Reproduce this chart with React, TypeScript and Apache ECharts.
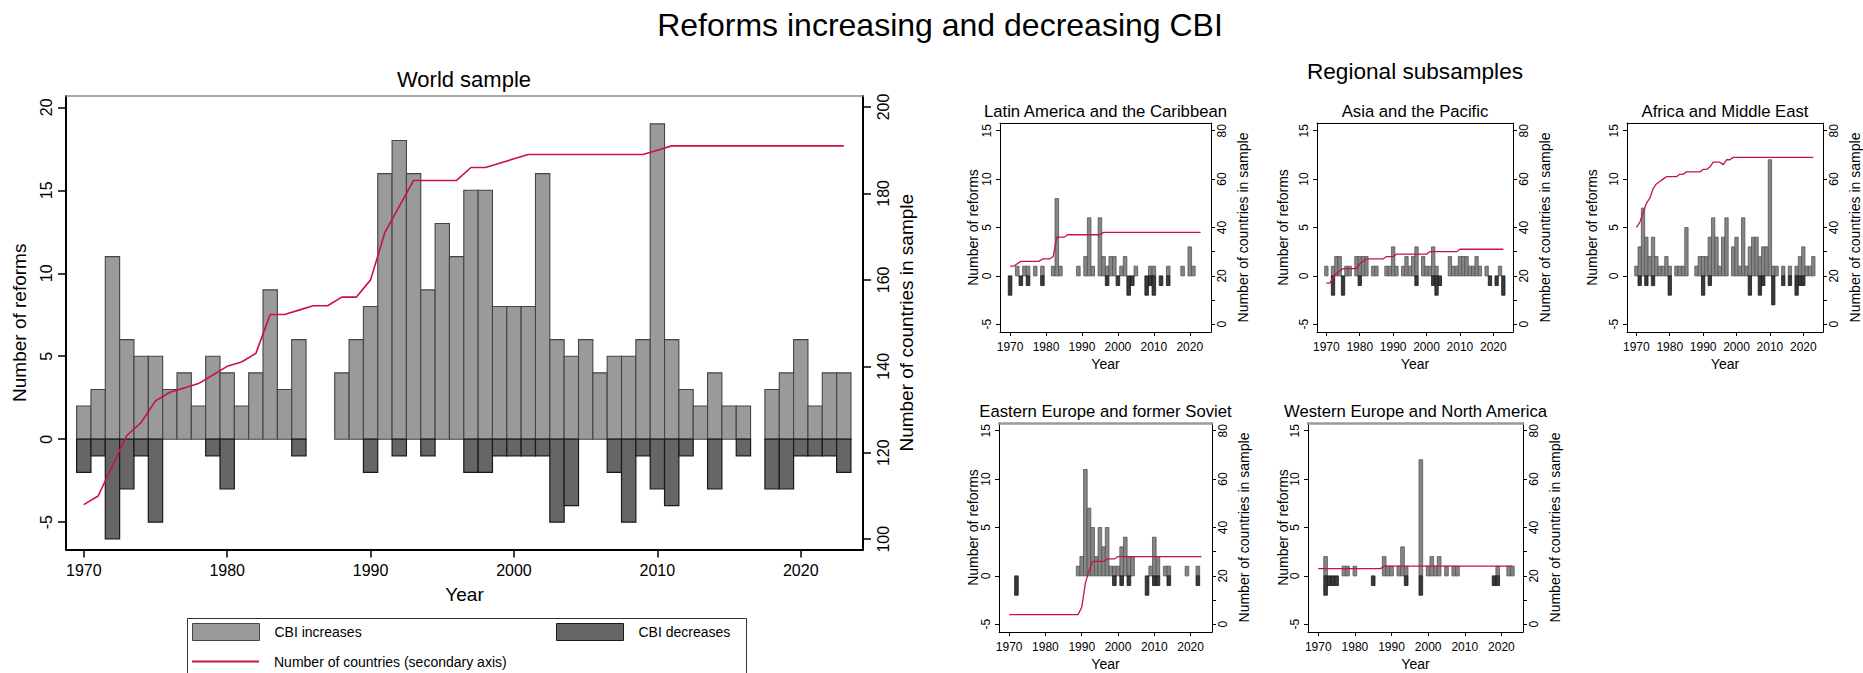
import React, { useEffect, useRef } from "react";
import * as echarts from "echarts";

// ---------------- data ----------------
const YEARS = [
  1970, 1971, 1972, 1973, 1974, 1975, 1976, 1977, 1978, 1979,
  1980, 1981, 1982, 1983, 1984, 1985, 1986, 1987, 1988, 1989,
  1990, 1991, 1992, 1993, 1994, 1995, 1996, 1997, 1998, 1999,
  2000, 2001, 2002, 2003, 2004, 2005, 2006, 2007, 2008, 2009,
  2010, 2011, 2012, 2013, 2014, 2015, 2016, 2017, 2018, 2019,
  2020, 2021, 2022, 2023,
];

const WORLD_INCREASES = [
  2, 3, 11, 6, 5, 5, 3, 4, 2, 5,
  4, 2, 4, 9, 3, 6, 0, 0, 4, 6,
  8, 16, 18, 16, 9, 13, 11, 15, 15, 8,
  8, 8, 16, 6, 5, 6, 4, 5, 5, 6,
  19, 6, 3, 2, 4, 2, 2, 0, 3, 4,
  6, 2, 4, 4,
];
const WORLD_DECREASES = [
  -2, -1, -6, -3, -1, -5, 0, 0, 0, -1,
  -3, 0, 0, 0, 0, -1, 0, 0, 0, 0,
  -2, 0, -1, 0, -1, 0, 0, -2, -2, -1,
  -1, -1, -1, -5, -4, 0, 0, -2, -5, -1,
  -3, -4, -1, 0, -3, 0, -1, 0, -3, -3,
  -1, -1, -1, -2,
];
const WORLD_COUNTRIES = [
  108, 110, 117, 124, 127, 132, 134, 135, 136, 138,
  140, 141, 143, 152, 152, 153, 154, 154, 156, 156,
  160, 171, 177, 183, 183, 183, 183, 186, 186, 187,
  188, 189, 189, 189, 189, 189, 189, 189, 189, 189,
  190, 191, 191, 191, 191, 191, 191, 191, 191, 191,
  191, 191, 191, 191,
];

const LATAM_INCREASES = [
  0, 0, 1, 0, 1, 1, 0, 1, 0, 1,
  0, 0, 1, 8, 1, 0, 0, 0, 0, 1,
  0, 2, 6, 1, 0, 6, 2, 1, 2, 2,
  0, 1, 2, 0, 0, 1, 0, 0, 0, 1,
  1, 0, 0, 0, 1, 0, 0, 0, 1, 0,
  3, 1, 0, 0,
];
const LATAM_DECREASES = [
  -2, 0, 0, -1, 0, -1, 0, 0, 0, -1,
  0, 0, 0, 0, 0, 0, 0, 0, 0, 0,
  0, 0, 0, 0, 0, 0, 0, -1, 0, 0,
  -1, 0, 0, -2, -1, 0, 0, 0, -2, -1,
  -2, 0, -1, 0, -1, 0, 0, 0, 0, 0,
  0, 0, 0, 0,
];
const LATAM_COUNTRIES = [
  24, 24, 25, 26, 26, 26, 26, 26, 26, 27,
  27, 27, 28, 36, 36, 36, 37, 37, 37, 37,
  37, 37, 37, 37, 37, 37, 38, 38, 38, 38,
  38, 38, 38, 38, 38, 38, 38, 38, 38, 38,
  38, 38, 38, 38, 38, 38, 38, 38, 38, 38,
  38, 38, 38, 38,
];

const ASIA_INCREASES = [
  1, 0, 1, 2, 2, 0, 1, 1, 0, 2,
  2, 2, 2, 0, 1, 1, 0, 0, 1, 1,
  3, 1, 0, 1, 2, 1, 2, 3, 0, 2,
  1, 1, 3, 1, 0, 0, 0, 2, 1, 1,
  2, 2, 2, 1, 1, 2, 1, 0, 1, 0,
  0, 0, 1, 0,
];
const ASIA_DECREASES = [
  0, 0, -2, 0, 0, -2, 0, 0, 0, 0,
  -1, 0, 0, 0, 0, 0, 0, 0, 0, 0,
  0, 0, 0, 0, 0, 0, 0, -1, 0, 0,
  0, 0, -1, -2, -1, 0, 0, 0, 0, 0,
  0, 0, 0, 0, 0, 0, 0, 0, 0, -1,
  0, -1, 0, -2,
];
const ASIA_COUNTRIES = [
  17, 17, 19, 21, 22, 23, 23, 23, 23, 23,
  25, 26, 27, 27, 27, 27, 27, 27, 28, 28,
  28, 29, 29, 29, 29, 29, 29, 29, 29, 29,
  29, 30, 30, 30, 30, 30, 30, 30, 30, 30,
  31, 31, 31, 31, 31, 31, 31, 31, 31, 31,
  31, 31, 31, 31,
];

const AFRICA_INCREASES = [
  1, 3, 7, 4, 2, 4, 2, 1, 1, 2,
  1, 0, 1, 1, 1, 5, 0, 0, 1, 2,
  2, 2, 4, 6, 4, 1, 4, 6, 0, 3,
  4, 1, 6, 1, 3, 4, 4, 2, 3, 3,
  12, 1, 1, 0, 1, 0, 1, 0, 1, 2,
  3, 1, 1, 2,
];
const AFRICA_DECREASES = [
  0, -1, 0, -1, 0, -1, 0, 0, 0, 0,
  -2, 0, 0, 0, 0, 0, 0, 0, 0, 0,
  -2, 0, -1, 0, 0, 0, 0, 0, 0, 0,
  0, 0, 0, 0, -2, 0, 0, -2, -1, 0,
  0, -3, 0, 0, -1, 0, -1, 0, -2, -1,
  -1, 0, 0, 0,
];
const AFRICA_COUNTRIES = [
  40, 42, 46, 50, 52, 56, 58, 59, 60, 61,
  61, 61, 61, 62, 62, 63, 63, 63, 63, 63,
  64, 64, 65, 67, 67, 67, 66, 68, 68, 69,
  69, 69, 69, 69, 69, 69, 69, 69, 69, 69,
  69, 69, 69, 69, 69, 69, 69, 69, 69, 69,
  69, 69, 69, 69,
];

const EAST_INCREASES = [
  0, 0, 0, 0, 0, 0, 0, 0, 0, 0,
  0, 0, 0, 0, 0, 0, 0, 0, 0, 1,
  2, 11, 7, 5, 2, 5, 3, 5, 1, 1,
  1, 3, 4, 2, 2, 0, 0, 0, 0, 1,
  4, 2, 0, 1, 1, 0, 0, 0, 0, 1,
  0, 0, 1, 0,
];
const EAST_DECREASES = [
  0, 0, -2, 0, 0, 0, 0, 0, 0, 0,
  0, 0, 0, 0, 0, 0, 0, 0, 0, 0,
  0, 0, 0, 0, 0, 0, 0, 0, 0, -1,
  0, -1, 0, -1, 0, 0, 0, 0, -2, 0,
  -1, -1, 0, 0, -1, 0, 0, 0, 0, 0,
  0, 0, -1, 0,
];
const EAST_COUNTRIES = [
  4, 4, 4, 4, 4, 4, 4, 4, 4, 4,
  4, 4, 4, 4, 4, 4, 4, 4, 4, 4,
  7, 17, 22, 26, 26, 26, 26, 27, 27, 27,
  28, 28, 28, 28, 28, 28, 28, 28, 28, 28,
  28, 28, 28, 28, 28, 28, 28, 28, 28, 28,
  28, 28, 28, 28,
];

const WEST_INCREASES = [
  0, 0, 2, 0, 0, 0, 0, 1, 1, 0,
  1, 0, 0, 0, 0, 0, 0, 0, 2, 1,
  1, 0, 1, 3, 1, 0, 0, 0, 12, 0,
  1, 2, 1, 2, 0, 1, 0, 1, 1, 0,
  0, 0, 0, 0, 0, 0, 0, 0, 0, 1,
  0, 0, 1, 1,
];
const WEST_DECREASES = [
  0, 0, -2, -1, -1, -1, 0, 0, 0, 0,
  0, 0, 0, 0, 0, -1, 0, 0, 0, 0,
  0, 0, 0, 0, -1, 0, 0, 0, -2, 0,
  0, 0, 0, 0, 0, 0, 0, 0, 0, 0,
  0, 0, 0, 0, 0, 0, 0, 0, -1, -1,
  0, 0, 0, 0,
];
const WEST_COUNTRIES = [
  23, 23, 23, 23, 23, 23, 23, 23, 23, 23,
  23, 23, 23, 23, 23, 23, 23, 23, 24, 24,
  24, 24, 24, 24, 24, 24, 24, 24, 24, 24,
  24, 24, 24, 24, 24, 24, 24, 24, 24, 24,
  24, 24, 24, 24, 24, 24, 24, 24, 24, 24,
  24, 24, 24, 24,
];

const DECADE_TICKS = [1970, 1980, 1990, 2000, 2010, 2020];
const WORLD_LEFT_TICKS = [-5, 0, 5, 10, 15, 20];
const WORLD_RIGHT_TICKS = [100, 120, 140, 160, 180, 200];
const REGION_LEFT_TICKS = [-5, 0, 5, 10, 15];
const REGION_RIGHT_TICKS = [0, 10, 20, 30, 40, 60, 80];
const REGION_RIGHT_LABELS = [0, 20, 40, 60, 80];

const REGIONS = [
  { title: "Latin America and the Caribbean", inc: LATAM_INCREASES, dec: LATAM_DECREASES, cnt: LATAM_COUNTRIES },
  { title: "Asia and the Pacific", inc: ASIA_INCREASES, dec: ASIA_DECREASES, cnt: ASIA_COUNTRIES },
  { title: "Africa and Middle East", inc: AFRICA_INCREASES, dec: AFRICA_DECREASES, cnt: AFRICA_COUNTRIES },
  { title: "Eastern Europe and former Soviet", inc: EAST_INCREASES, dec: EAST_DECREASES, cnt: EAST_COUNTRIES },
  { title: "Western Europe and North America", inc: WEST_INCREASES, dec: WEST_DECREASES, cnt: WEST_COUNTRIES },
];

// ---------------- layout / style ----------------
const FONT = "'Liberation Sans', Arial, Helvetica, sans-serif";
const INK = "#000000";
const RED = "#c8143c";

const PANEL_LAYOUT = [
  { left: 1000, top: 123, width: 211, height: 209, leftGap: 20, frameColor: "#000", frameWidth: 1 },
  { left: 1317, top: 123, width: 196, height: 209, leftGap: 27, frameColor: "#000", frameWidth: 1 },
  { left: 1627, top: 123, width: 196, height: 209, leftGap: 28, frameColor: "#000", frameWidth: 1 },
  { left: 999, top: 423, width: 213, height: 209, leftGap: 19, frameColor: "#9a9a9a", frameWidth: 2.5 },
  { left: 1308, top: 423, width: 215, height: 209, leftGap: 18, frameColor: "#9a9a9a", frameWidth: 2.5 },
];

const plain = (v: number) => String(v);

function toPairs(values: number[], skipZero: boolean) {
  const out: number[][] = [];
  YEARS.forEach((y, i) => {
    if (!skipZero || values[i] !== 0) out.push([y, values[i]]);
  });
  return out;
}

function barSeries(name: string, values: number[], xi: number, yi: number, fill: string, stroke: string, lw: number) {
  return {
    type: "custom",
    name,
    xAxisIndex: xi,
    yAxisIndex: yi,
    data: toPairs(values, true),
    encode: { x: 0, y: 1 },
    silent: true,
    z: 2,
    itemStyle: { color: fill, borderColor: stroke, borderWidth: lw },
    renderItem: (_params: any, api: any) => {
      const x = api.value(0);
      const v = api.value(1);
      const a = api.coord([x - 0.5, 0]);
      const b = api.coord([x + 0.5, v]);
      return {
        type: "rect",
        shape: {
          x: Math.min(a[0], b[0]),
          y: Math.min(a[1], b[1]),
          width: Math.abs(b[0] - a[0]),
          height: Math.abs(b[1] - a[1]),
        },
        style: { fill, stroke, lineWidth: lw },
      };
    },
  };
}

function lineSeries(name: string, values: number[], xi: number, yi: number, width: number) {
  return {
    type: "line",
    name,
    xAxisIndex: xi,
    yAxisIndex: yi,
    data: toPairs(values, false),
    symbol: "none",
    showSymbol: false,
    silent: true,
    z: 3,
    lineStyle: { color: RED, width },
    itemStyle: { color: RED },
  };
}

function buildOption() {
  const grid: any[] = [];
  const xAxis: any[] = [];
  const yAxis: any[] = [];
  const series: any[] = [];
  const title: any[] = [];

  const txt = (size: number) => ({ fontSize: size, color: INK, fontFamily: FONT, fontWeight: "normal" });

  // ---------- main world chart ----------
  grid.push({ left: 66, top: 96, width: 797, height: 453.5, containLabel: false, outerBoundsMode: "none" });
  xAxis.push({
    type: "value", gridIndex: 0, position: "bottom", min: 1968.76, max: 2024.34,
    axisLine: { show: true, onZero: false, lineStyle: { color: INK, width: 2 } },
    axisTick: { show: true, length: 8, lineStyle: { color: INK, width: 1.5 }, customValues: DECADE_TICKS },
    axisLabel: { show: true, margin: 13, customValues: DECADE_TICKS, formatter: plain, ...txt(16) },
    splitLine: { show: false },
    name: "Year", nameLocation: "middle", nameGap: 35, nameTextStyle: txt(19), nameMoveOverlap: false,
  });
  xAxis.push({
    type: "value", gridIndex: 0, position: "top", min: 1968.76, max: 2024.34,
    axisLine: { show: true, onZero: false, lineStyle: { color: "#8c8c8c", width: 1.5 } },
    axisTick: { show: false }, axisLabel: { show: false }, splitLine: { show: false },
  });
  yAxis.push({
    type: "value", gridIndex: 0, position: "left", min: -6.645, max: 20.68,
    axisLine: { show: true, onZero: false, lineStyle: { color: INK, width: 2 } },
    axisTick: { show: true, length: 8, lineStyle: { color: INK, width: 1.5 }, customValues: WORLD_LEFT_TICKS },
    axisLabel: { show: true, rotate: 90, margin: 12, customValues: WORLD_LEFT_TICKS, formatter: plain, ...txt(16) },
    splitLine: { show: false },
    name: "Number of reforms", nameLocation: "middle", nameGap: 37, nameTextStyle: txt(19), nameMoveOverlap: false,
  });
  yAxis.push({
    type: "value", gridIndex: 0, position: "right", min: 97.62, max: 202.54,
    axisLine: { show: true, onZero: false, lineStyle: { color: INK, width: 2 } },
    axisTick: { show: true, length: 8, lineStyle: { color: INK, width: 1.5 }, customValues: WORLD_RIGHT_TICKS },
    axisLabel: { show: true, rotate: 90, margin: 12, customValues: WORLD_RIGHT_TICKS, formatter: plain, ...txt(16) },
    splitLine: { show: false },
    name: "Number of countries in sample", nameLocation: "middle", nameGap: 34, nameTextStyle: txt(19), nameMoveOverlap: false,
  });
  series.push(barSeries("CBI increases", WORLD_INCREASES, 0, 0, "#9a9a9a", "#444444", 1.1));
  series.push(barSeries("CBI decreases", WORLD_DECREASES, 0, 0, "#666666", "#1a1a1a", 1.2));
  series.push(lineSeries("Number of countries (secondary axis)", WORLD_COUNTRIES, 0, 1, 1.6));

  title.push({
    text: "Reforms increasing and decreasing CBI", left: 940, top: 25, textAlign: "center",
    textVerticalAlign: "middle", padding: 0, textStyle: txt(32),
  });
  title.push({
    text: "World sample", left: 464, top: 79, textAlign: "center",
    textVerticalAlign: "middle", padding: 0, textStyle: txt(22),
  });
  title.push({
    text: "Regional subsamples", left: 1415, top: 71, textAlign: "center",
    textVerticalAlign: "middle", padding: 0, textStyle: txt(22.6),
  });

  // ---------- regional panels ----------
  REGIONS.forEach((r, k) => {
    const L = PANEL_LAYOUT[k];
    const g = k + 1;
    grid.push({ left: L.left, top: L.top, width: L.width, height: L.height, containLabel: false, outerBoundsMode: "none" });
    const xi = xAxis.length;
    xAxis.push({
      type: "value", gridIndex: g, position: "bottom", min: 1967.2, max: 2025.9,
      axisLine: { show: true, onZero: false, lineStyle: { color: INK, width: 1 } },
      axisTick: { show: true, length: 4, lineStyle: { color: INK, width: 1 }, customValues: DECADE_TICKS },
      axisLabel: { show: true, margin: 9, customValues: DECADE_TICKS, formatter: plain, ...txt(12) },
      splitLine: { show: false },
      name: "Year", nameLocation: "middle", nameGap: 25, nameTextStyle: txt(14), nameMoveOverlap: false,
    });
    xAxis.push({
      type: "value", gridIndex: g, position: "top", min: 1967.2, max: 2025.9,
      axisLine: { show: true, onZero: false, lineStyle: { color: L.frameColor, width: L.frameWidth } },
      axisTick: { show: false }, axisLabel: { show: false }, splitLine: { show: false },
    });
    const yi = yAxis.length;
    yAxis.push({
      type: "value", gridIndex: g, position: "left", min: -5.8, max: 15.8,
      axisLine: { show: true, onZero: false, lineStyle: { color: INK, width: 1 } },
      axisTick: { show: true, length: 4, lineStyle: { color: INK, width: 1 }, customValues: REGION_LEFT_TICKS },
      axisLabel: { show: true, rotate: 90, margin: 7, customValues: REGION_LEFT_TICKS, formatter: plain, ...txt(12) },
      splitLine: { show: false },
      name: "Number of reforms", nameLocation: "middle", nameGap: L.leftGap, nameTextStyle: txt(14), nameMoveOverlap: false,
    });
    yAxis.push({
      type: "value", gridIndex: g, position: "right", min: -3.2, max: 83.2,
      axisLine: { show: true, onZero: false, lineStyle: { color: INK, width: 1 } },
      axisTick: { show: true, length: 4, lineStyle: { color: INK, width: 1 }, customValues: REGION_RIGHT_TICKS },
      axisLabel: { show: true, rotate: 90, margin: 5, customValues: REGION_RIGHT_LABELS, formatter: plain, ...txt(12) },
      splitLine: { show: false },
      name: "Number of countries in sample", nameLocation: "middle", nameGap: 25, nameTextStyle: txt(14), nameMoveOverlap: false,
    });
    series.push(barSeries(r.title + " increases", r.inc, xi, yi, "#868686", "#555555", 0.8));
    series.push(barSeries(r.title + " decreases", r.dec, xi, yi, "#3a3a3a", "#1a1a1a", 0.8));
    series.push(lineSeries(r.title + " countries", r.cnt, xi, yi + 1, 1.3));

    title.push({
      text: r.title, left: L.left + L.width / 2, top: L.top - 11.5, textAlign: "center",
      textVerticalAlign: "middle", padding: 0, textStyle: txt(16.7),
    });
  });

  const legendText = { fontSize: 14, color: INK, fontFamily: FONT, padding: [0, 0, 0, 10] };
  const legend = [
    {
      left: 192, top: 623, padding: 0, itemWidth: 67, itemHeight: 17, selectedMode: false,
      data: [{ name: "CBI increases", icon: "rect", itemStyle: { color: "#9a9a9a", borderColor: "#444", borderWidth: 1 } }],
      textStyle: legendText,
    },
    {
      left: 556, top: 623, padding: 0, itemWidth: 67, itemHeight: 17, selectedMode: false,
      data: [{ name: "CBI decreases", icon: "rect", itemStyle: { color: "#666666", borderColor: "#1a1a1a", borderWidth: 1 } }],
      textStyle: legendText,
    },
    {
      left: 192, top: 654.5, padding: 0, itemWidth: 67, itemHeight: 2, selectedMode: false,
      data: [{ name: "Number of countries (secondary axis)", icon: "rect", itemStyle: { color: RED, borderWidth: 0 } }],
      textStyle: legendText,
    },
  ];

  return {
    animation: false,
    backgroundColor: "#ffffff",
    textStyle: { fontFamily: FONT },
    title,
    grid,
    xAxis,
    yAxis,
    series,
    legend,
    graphic: [
      {
        type: "rect", left: 185, top: 616, silent: true, z: 0,
        shape: { width: 559, height: 80 },
        style: { fill: "none", stroke: "#333", lineWidth: 1 },
      },
    ],
  };
}

export default function App() {
  const ref = useRef<HTMLDivElement>(null);
  useEffect(() => {
    if (!ref.current) return;
    const chart = echarts.init(ref.current, null, { renderer: "svg" });
    chart.setOption(buildOption() as any);
    return () => chart.dispose();
  }, []);
  return (
    <div
      ref={ref}
      style={{ position: "absolute", left: 0, top: 0, width: 1863, height: 673, background: "#fff" }}
    />
  );
}
